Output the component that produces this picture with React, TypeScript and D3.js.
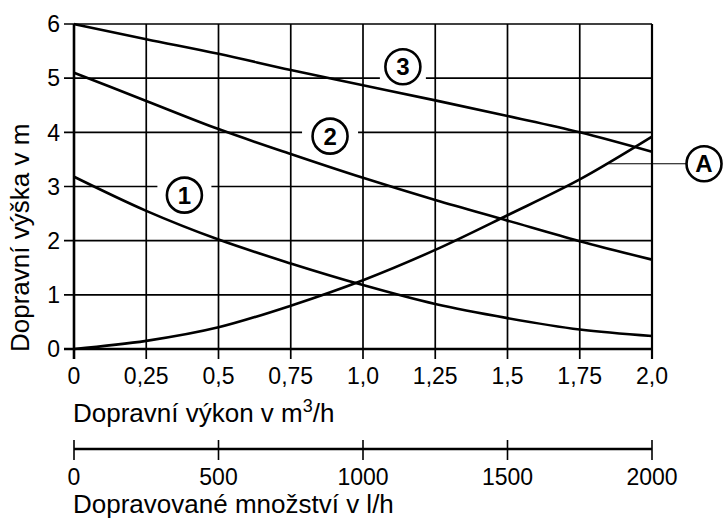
import React, { useEffect, useRef } from 'react';
import * as d3 from 'd3';

// flow rate in m3/h (grid columns)
const flow = [0, 0.25, 0.5, 0.75, 1.0, 1.25, 1.5, 1.75, 2.0];
const flowLabels = ['0', '0,25', '0,5', '0,75', '1,0', '1,25', '1,5', '1,75', '2,0'];
const headTicks = [0, 1, 2, 3, 4, 5, 6];

// pump curves (head in m)
const curve1 = [3.18, 2.55, 2.02, 1.58, 1.18, 0.83, 0.57, 0.36, 0.24];
const curve2 = [5.1, 4.58, 4.06, 3.6, 3.16, 2.75, 2.37, 1.99, 1.65];
const curve3 = [6.0, 5.72, 5.45, 5.15, 4.87, 4.59, 4.3, 4.0, 3.64];
// system curve A
const curveA = [0, 0.15, 0.4, 0.8, 1.27, 1.83, 2.47, 3.13, 3.92];

// secondary axis, l/h
const litreTicks = [0, 500, 1000, 1500, 2000];

// circled labels: [text, x (m3/h), y (m), gap half-width on grid line]
const labels: [string, number, number, number][] = [
  ['1', 0.382, 2.84, 27],
  ['2', 0.886, 3.93, 28],
  ['3', 1.138, 5.21, 23],
];
const labelA = { text: 'A', x: 2.18, y: 3.42, from: 1.85 };

const FONT = '"Liberation Sans", Arial, sans-serif';

export default function App() {
  const svgRef = useRef<SVGSVGElement>(null);
  const width = 725;
  const height = 519;

  useEffect(() => {
    if (!svgRef.current) return;
    const svg = d3.select(svgRef.current);
    svg.selectAll('*').remove();

    const x = d3.scaleLinear().domain([0, 2]).range([74, 652]);
    const y = d3.scaleLinear().domain([0, 6]).range([349, 24]);
    const xl = d3.scaleLinear().domain([0, 2000]).range([74, 652]);

    svg.append('rect').attr('width', width).attr('height', height).attr('fill', '#fff');

    const grid = svg.append('g').attr('stroke', '#000').attr('stroke-width', 1.7);

    // horizontal grid + left ticks
    grid.selectAll('line.h')
      .data(headTicks)
      .join('line')
      .attr('x1', 64)
      .attr('x2', x(2))
      .attr('y1', d => y(d))
      .attr('y2', d => y(d))
      .attr('stroke-width', d => (d === 0 ? 2.6 : 1.7));

    // vertical grid + bottom ticks
    grid.selectAll('line.v')
      .data(flow)
      .join('line')
      .attr('x1', d => x(d))
      .attr('x2', d => x(d))
      .attr('y1', y(6))
      .attr('y2', y(0) + 10)
      .attr('stroke-width', d => (d === 0 ? 2.6 : d === 2 ? 2.2 : 1.7));

    // gaps for the circled labels
    svg.selectAll('rect.gap')
      .data(labels)
      .join('rect')
      .attr('x', d => x(d[1]) - d[3])
      .attr('width', d => d[3] * 2)
      .attr('y', d => y(Math.round(d[2])) - 3)
      .attr('height', 6)
      .attr('fill', '#fff');

    // y tick labels
    svg.selectAll('text.yt')
      .data(headTicks)
      .join('text')
      .attr('x', 60)
      .attr('y', d => y(d))
      .attr('dy', '0.36em')
      .attr('text-anchor', 'end')
      .attr('font-family', FONT)
      .attr('font-size', 23)
      .text(d => String(d));

    // x tick labels
    svg.selectAll('text.xt')
      .data(flow)
      .join('text')
      .attr('x', d => x(d))
      .attr('y', 384)
      .attr('text-anchor', 'middle')
      .attr('font-family', FONT)
      .attr('font-size', 23)
      .text((_, i) => flowLabels[i]);

    // curves
    const line = d3.line<number>()
      .x((_, i) => x(flow[i]))
      .y(d => y(d))
      .curve(d3.curveMonotoneX);

    svg.selectAll('path.curve')
      .data([curve1, curve2, curve3, curveA])
      .join('path')
      .attr('d', d => line(d))
      .attr('fill', 'none')
      .attr('stroke', '#000')
      .attr('stroke-width', 2.6);

    // circled labels
    const lab = svg.selectAll('g.lab')
      .data(labels)
      .join('g')
      .attr('transform', d => `translate(${x(d[1])},${y(d[2])})`);
    lab.append('circle').attr('r', 17.5).attr('fill', '#fff').attr('stroke', '#000').attr('stroke-width', 2.6);
    lab.append('text')
      .attr('text-anchor', 'middle')
      .attr('dy', '0.36em')
      .attr('font-family', FONT)
      .attr('font-weight', 'bold')
      .attr('font-size', 24)
      .text(d => d[0]);

    // label A with leader
    const ax = x(labelA.x);
    const ay = y(labelA.y);
    svg.append('line')
      .attr('x1', x(labelA.from))
      .attr('x2', ax - 17)
      .attr('y1', ay)
      .attr('y2', ay)
      .attr('stroke', '#000')
      .attr('stroke-width', 1);
    const ga = svg.append('g').attr('transform', `translate(${ax},${ay})`);
    ga.append('circle').attr('r', 17.5).attr('fill', '#fff').attr('stroke', '#000').attr('stroke-width', 2.6);
    ga.append('text')
      .attr('text-anchor', 'middle')
      .attr('dy', '0.36em')
      .attr('font-family', FONT)
      .attr('font-weight', 'bold')
      .attr('font-size', 24)
      .text(labelA.text);

    // axis titles
    const t1 = svg.append('text')
      .attr('x', 73)
      .attr('y', 422)
      .attr('font-family', FONT)
      .attr('font-size', 26);
    t1.append('tspan').text('Dopravní výkon v m');
    t1.append('tspan').attr('font-size', 18).attr('dy', -10).text('3');
    t1.append('tspan').attr('dy', 10).text('/h');

    svg.append('text')
      .attr('transform', 'translate(29,352) rotate(-90)')
      .attr('font-family', FONT)
      .attr('font-size', 26)
      .text('Dopravní výška v m');

    // secondary axis (l/h)
    const sec = svg.append('g').attr('stroke', '#000');
    sec.append('line')
      .attr('x1', xl(0))
      .attr('x2', xl(2000))
      .attr('y1', 449)
      .attr('y2', 449)
      .attr('stroke-width', 2.6);
    sec.selectAll('line.st')
      .data(litreTicks)
      .join('line')
      .attr('x1', d => xl(d))
      .attr('x2', d => xl(d))
      .attr('y1', 440)
      .attr('y2', 460)
      .attr('stroke-width', 1.6);

    svg.selectAll('text.lt')
      .data(litreTicks)
      .join('text')
      .attr('x', d => xl(d))
      .attr('y', 485)
      .attr('text-anchor', 'middle')
      .attr('font-family', FONT)
      .attr('font-size', 23)
      .text(d => String(d));

    svg.append('text')
      .attr('x', 73)
      .attr('y', 513)
      .attr('font-family', FONT)
      .attr('font-size', 26)
      .text('Dopravované množství v l/h');
  }, []);

  return (
    <svg
      ref={svgRef}
      width={width}
      height={height}
      style={{ position: 'absolute', left: 0, top: 0, display: 'block' }}
    />
  );
}
